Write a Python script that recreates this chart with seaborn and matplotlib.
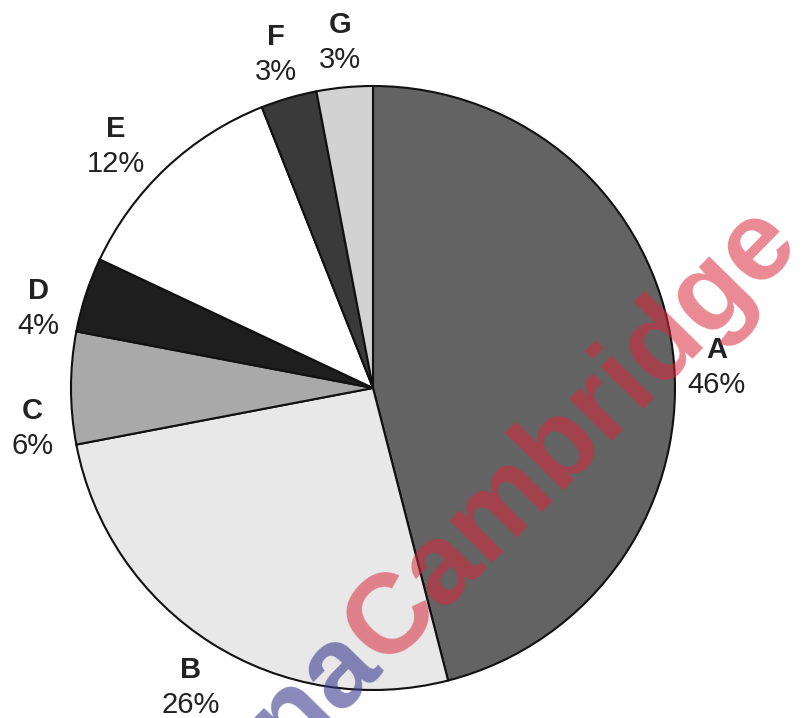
import matplotlib
matplotlib.use("Agg")
import matplotlib.pyplot as plt
import numpy as np
import seaborn as sns

# slice data, clockwise from 12 o'clock
labels = ['A', 'B', 'C', 'D', 'E', 'F', 'G']
shares = [46, 26, 6, 4, 12, 3, 3]
colors = ['#636363', '#e8e8e8', '#a9a9a9', '#1e1e1e', '#ffffff', '#3a3a3a', '#d2d2d2']

sns.set_theme(style='white')
plt.rcParams['font.family'] = ['Liberation Sans', 'DejaVu Sans']

W, H = 807, 718
fig = plt.figure(figsize=(W / 100, H / 100), dpi=100)
ax = fig.add_axes([0, 0, 1, 1])

cx, cy, R = 373, H - 388, 302
wedges, _ = ax.pie(shares, colors=colors, startangle=90, counterclock=False,
                   center=(cx, cy), radius=R,
                   wedgeprops=dict(edgecolor='#111111', linewidth=1.5))
ax.set_xlim(0, W)
ax.set_ylim(0, H)
ax.set_aspect('equal')
ax.axis('off')

# small angle tweaks (deg) and radius factors so labels sit like the original
nudge = {'A': -3.7, 'B': 1.0, 'C': 6.7, 'D': 4.6, 'E': 3.6}
rfac = {'A': 1.14, 'B': 1.16, 'C': 1.135, 'D': 1.14, 'E': 1.17}

# labels: bold letter over percentage, outside each slice
for w, lab, s in zip(wedges, labels, shares):
    ang = np.deg2rad((w.theta1 + w.theta2) / 2 + nudge.get(lab, 0))
    k = rfac.get(lab, 1.15)
    x = cx + k * R * np.cos(ang)
    y = cy + k * R * np.sin(ang)
    ax.text(x, y + 17, lab, ha='center', va='center', fontsize=21,
            fontweight='bold', color='#222222')
    ax.text(x, y - 18, f'{s}%', ha='center', va='center', fontsize=21,
            color='#222222')

# watermark
wx, wy, rot = 384, H - 668, 45.5
ax.text(wx, wy, 'Cambridge', rotation=rot, rotation_mode='anchor',
        ha='left', va='baseline', fontsize=82, fontweight='bold',
        color='#d9283c', alpha=0.55, zorder=10)
ax.text(wx, wy, 'dyna', rotation=rot, rotation_mode='anchor',
        ha='right', va='baseline', fontsize=82, fontweight='bold',
        color='#3a3a90', alpha=0.6, zorder=10)

fig.savefig('out.png', dpi=100)
